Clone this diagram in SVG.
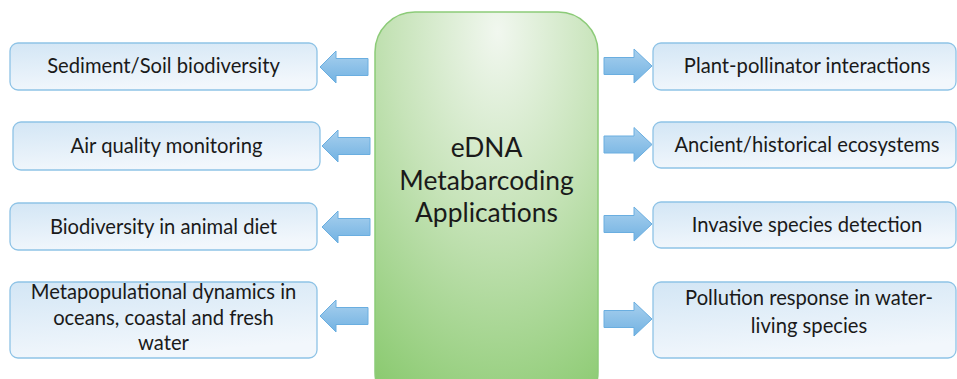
<svg xmlns="http://www.w3.org/2000/svg" width="957" height="379" viewBox="0 0 957 379">
<defs>
<linearGradient id="boxg" x1="0" y1="0" x2="0.3" y2="1">
<stop offset="0" stop-color="#d3e6f5"/>
<stop offset="1" stop-color="#f2f7fc"/>
</linearGradient>
<radialGradient id="cg" cx="0.55" cy="0.05" r="1.05" fx="0.55" fy="0.05">
<stop offset="0" stop-color="#f1f7ef"/>
<stop offset="0.45" stop-color="#c6e3b8"/>
<stop offset="1" stop-color="#88c96d"/>
</radialGradient>
<linearGradient id="ag" x1="0" y1="0" x2="0" y2="1">
<stop offset="0" stop-color="#a8d0ee"/>
<stop offset="1" stop-color="#72b2e2"/>
</linearGradient>
</defs>
<style>
.box{fill:url(#boxg);stroke:#8ec3e6;stroke-width:1.3}
.t{font-family:Lato,"Liberation Sans",Arial,sans-serif;font-size:20.2px;fill:#1a1a1a;text-anchor:middle}
.ct{font-family:Lato,"Liberation Sans",Arial,sans-serif;font-size:26.4px;fill:#1a1a1a;text-anchor:middle}
.arr{fill:url(#ag);stroke:#6aaee0;stroke-width:1}
</style>
<rect width="957" height="379" fill="#ffffff"/>
<g id="center">
<rect x="375" y="12" width="223" height="400" rx="40" ry="40" fill="url(#cg)" stroke="#8ccb78" stroke-width="1.5"/>
<text class="ct" x="486.5" y="157">eDNA</text>
<text class="ct" x="486.5" y="190">Metabarcoding</text>
<text class="ct" x="486.5" y="222">Applications</text>
</g>
<g id="connectors">
<path class="arr" d="M320,67 L336,51 L336,58.5 L368,58.5 L368,75.5 L336,75.5 L336,83 Z"/>
<path class="arr" d="M322,146 L338,130 L338,137.5 L370,137.5 L370,154.5 L338,154.5 L338,162 Z"/>
<path class="arr" d="M322,227 L338,211 L338,218.5 L370,218.5 L370,235.5 L338,235.5 L338,243 Z"/>
<path class="arr" d="M320,316 L336,300 L336,307.5 L368,307.5 L368,324.5 L336,324.5 L336,332 Z"/>
<path class="arr" d="M652,66 L634,49 L634,57.5 L604,57.5 L604,74.5 L634,74.5 L634,83 Z"/>
<path class="arr" d="M652,144.5 L634,127.5 L634,136 L604,136 L604,153 L634,153 L634,161.5 Z"/>
<path class="arr" d="M652,224 L634,207 L634,215.5 L604,215.5 L604,232.5 L634,232.5 L634,241 Z"/>
<path class="arr" d="M652,319 L634,302 L634,310.5 L604,310.5 L604,327.5 L634,327.5 L634,336 Z"/>
</g>
<g id="l1">
<rect class="box" x="10" y="43" width="307" height="47" rx="8"/>
<text class="t" x="163.5" y="73">Sediment/Soil biodiversity</text>
</g>
<g id="l2">
<rect class="box" x="13" y="122" width="307" height="48" rx="8"/>
<text class="t" x="166.5" y="153">Air quality monitoring</text>
</g>
<g id="l3">
<rect class="box" x="10" y="203" width="307" height="47" rx="8"/>
<text class="t" x="163.5" y="234">Biodiversity in animal diet</text>
</g>
<g id="l4">
<rect class="box" x="10" y="282" width="307" height="76" rx="8"/>
<text class="t" x="163.5" y="299">Metapopulational dynamics in</text>
<text class="t" x="163.5" y="325">oceans, coastal and fresh</text>
<text class="t" x="163.5" y="350">water</text>
</g>
<g id="r1">
<rect class="box" x="653" y="43" width="303" height="47" rx="8"/>
<text class="t" x="807" y="73">Plant-pollinator interactions</text>
</g>
<g id="r2">
<rect class="box" x="653" y="122" width="303" height="46" rx="8"/>
<text class="t" x="807" y="152">Ancient/historical ecosystems</text>
</g>
<g id="r3">
<rect class="box" x="653" y="202" width="303" height="46" rx="8"/>
<text class="t" x="807" y="232">Invasive species detection</text>
</g>
<g id="r4">
<rect class="box" x="653" y="282" width="303" height="76" rx="8"/>
<text class="t" x="809" y="305">Pollution response in water-</text>
<text class="t" x="809" y="333">living species</text>
</g>
</svg>
